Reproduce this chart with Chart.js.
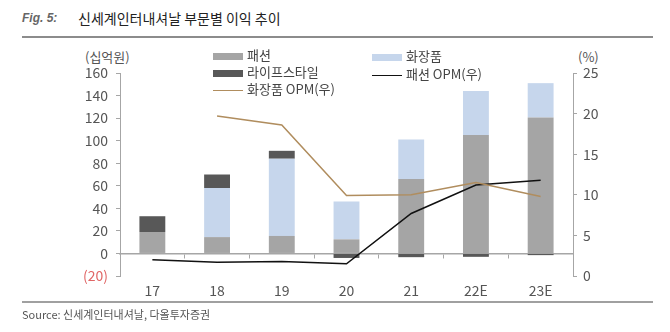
<!DOCTYPE html>
<html>
<head>
<meta charset="utf-8">
<script src="https://cdn.jsdelivr.net/npm/chart.js@4.4.0/dist/chart.umd.min.js"></script>
<style>
  html, body { margin: 0; padding: 0; background: #fff; }
  body { width: 670px; height: 332px; position: relative; overflow: hidden;
         font-family: "Noto Sans CJK KR", "Noto Sans", sans-serif; color: #333; }
  .abs { position: absolute; white-space: nowrap; }
  #fig { left: 22px; top: 11px; font: italic bold 12px "Liberation Sans", Arial, sans-serif; color: #666; }
  #title { left: 78px; top: 8px; font-size: 14px; color: #222; }
  #rule1 { left: 22px; top: 36px; width: 631px; height: 2px; background: #8c8c8c; }
  #rule2 { left: 22px; top: 301px; width: 631px; height: 2px; background: #a0a0a0; }
  #source { left: 22px; top: 306px; font-size: 11px; color: #555; }
  #unitL { left: 85px; top: 47px; font-size: 13px; color: #555; }
  #unitR { left: 578px; top: 47px; font-size: 13px; color: #555; }
  canvas { position: absolute; left: 0; top: 0; }
  .leg { position: absolute; font-size: 13px; color: #444; line-height: 16px; white-space: nowrap; }
  .leg span.sw { display: inline-block; width: 30px; vertical-align: middle; margin-right: 4px; }
</style>
</head>
<body>
<div class="abs" id="fig">Fig. 5:</div>
<div class="abs" id="title">신세계인터내셔날 부문별 이익 추이</div>
<div class="abs" id="rule1"></div>
<div class="abs" id="unitL">(십억원)</div>
<div class="abs" id="unitR">(%)</div>
<canvas id="c" width="670" height="332"></canvas>
<div id="legend"></div>
<div class="abs" id="rule2"></div>
<div class="abs" id="source">Source: 신세계인터내셔날, 다올투자증권</div>

<script>
const years = ['17', '18', '19', '20', '21', '22E', '23E'];
const fashion = [19, 14.5, 15.5, 12.5, 66, 105, 120.5];
const cosmetics = [0, 43.5, 68.5, 33.5, 35, 39, 30.5];
const lifestyle = [14, 12, 7, -4, -3.3, -3, -1.5];
const fashionOpm = [2.0, 1.7, 1.8, 1.5, 7.7, 11.2, 11.8];
const cosmeticsOpm = [null, 19.7, 18.6, 9.9, 10.0, 11.5, 9.8];
const leftTicks = [-20, 0, 20, 40, 60, 80, 100, 120, 140, 160];
const rightTicks = [0, 5, 10, 15, 20, 25];

const axisGray = '#a6a6a6';
const tickFont = { family: '"Noto Sans CJK KR", "Noto Sans", sans-serif', size: 14 };

const datasets = [
  { type: 'line', label: '패션 OPM(우)', data: fashionOpm, yAxisID: 'yR',
    borderColor: '#111', borderWidth: 1.5, pointRadius: 0, tension: 0, order: 1 },
  { type: 'line', label: '화장품 OPM(우)', data: cosmeticsOpm, yAxisID: 'yR',
    borderColor: '#b08d5e', borderWidth: 1.5, pointRadius: 0, tension: 0, order: 0 },
  { type: 'bar', label: '패션', data: fashion, backgroundColor: '#a5a5a5', stack: 's', order: 2 },
  { type: 'bar', label: '화장품', data: cosmetics, backgroundColor: '#c6d6ec', stack: 's', order: 2 },
  { type: 'bar', label: '라이프스타일', data: lifestyle, backgroundColor: '#585858', stack: 's', order: 2 }
];

new Chart(document.getElementById('c'), {
  data: { labels: years, datasets: datasets },
  options: {
    responsive: false,
    animation: false,
    layout: { padding: { top: 73, left: 0, right: 0, bottom: 0 } },
    datasets: { bar: { barPercentage: 0.4, categoryPercentage: 1 } },
    plugins: { legend: { display: false }, tooltip: { enabled: false } },
    scales: {
      x: {
        position: 'bottom',
        grid: { display: false },
        border: { display: false },
        ticks: { color: '#555', font: tickFont, padding: -2 },
        afterFit: s => { s.height = 56; }
      },
      xZero: {
        type: 'category',
        position: { y: 0 },
        offset: true,
        grid: { drawOnChartArea: false, drawTicks: true, tickLength: 4, color: axisGray, offset: true },
        border: { display: true, color: axisGray, width: 1.5 },
        ticks: { display: false }
      },
      y: {
        position: 'left',
        stacked: true,
        min: -20, max: 160,
        afterBuildTicks: s => { s.ticks = leftTicks.map(v => ({ value: v })); },
        grid: { drawOnChartArea: false, tickLength: 4, color: axisGray },
        border: { color: axisGray },
        ticks: {
          font: tickFont, padding: 8,
          color: c => c.tick.value < 0 ? '#e06666' : '#555',
          callback: v => v < 0 ? '(' + (-v) + ')' : v
        },
        afterFit: s => { s.width = 120; }
      },
      yR: {
        position: 'right',
        min: 0, max: 25,
        afterBuildTicks: s => { s.ticks = rightTicks.map(v => ({ value: v })); },
        grid: { drawOnChartArea: false, tickLength: 4, color: axisGray },
        border: { color: axisGray },
        ticks: { font: tickFont, color: '#555', padding: 6 },
        afterFit: s => { s.width = 97; }
      }
    }
  }
});

// legend, two columns, row-major like the source
const legendItems = [
  { label: '패션', kind: 'bar', color: '#a5a5a5', x: 213, y: 47 },
  { label: '화장품', kind: 'bar', color: '#c6d6ec', x: 372, y: 48 },
  { label: '라이프스타일', kind: 'bar', color: '#585858', x: 213, y: 64 },
  { label: '패션 OPM(우)', kind: 'line', color: '#111', x: 372, y: 66 },
  { label: '화장품 OPM(우)', kind: 'line', color: '#b08d5e', x: 213, y: 81 }
];
const legendEl = document.getElementById('legend');
legendItems.forEach(it => {
  const d = document.createElement('div');
  d.className = 'leg';
  d.style.left = it.x + 'px';
  d.style.top = it.y + 'px';
  const sw = document.createElement('span');
  sw.className = 'sw';
  sw.style.height = it.kind === 'bar' ? '7px' : '1px';
  sw.style.background = it.color;
  d.appendChild(sw);
  d.appendChild(document.createTextNode(it.label));
  legendEl.appendChild(d);
});
</script>
</body>
</html>
